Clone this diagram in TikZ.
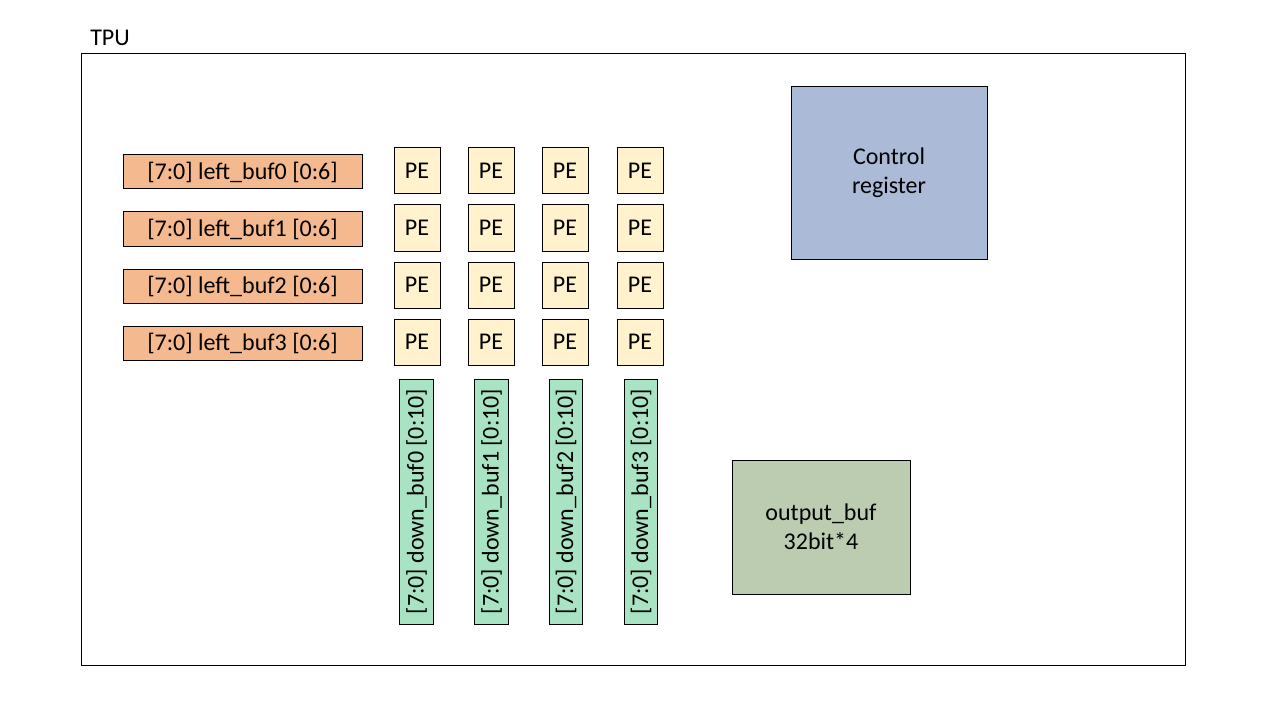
\documentclass[tikz,border=0pt]{standalone}
\usepackage{fontspec}
\setmainfont{Carlito}
\usetikzlibrary{positioning}

\definecolor{leftfill}{HTML}{F4B98F}
\definecolor{pefill}{HTML}{FFF2CC}
\definecolor{downfill}{HTML}{A8E3C3}
\definecolor{ctrlfill}{HTML}{ABBAD6}
\definecolor{outfill}{HTML}{BBCCB0}

\tikzset{
    box/.style={draw=black, line width=0.75pt, inner sep=0pt, font=\fontsize{18}{21.6}\selectfont},
    leftbuf/.style={box, fill=leftfill, minimum width=179.25pt, minimum height=25.5pt},
    pe/.style={box, fill=pefill, minimum width=34.5pt, minimum height=34.5pt},
    downbuf/.style={box, fill=downfill, rotate=90, minimum width=183.75pt, minimum height=25pt},
    bigbox/.style={box, align=center}
}

\begin{document}
\begin{tikzpicture}[x=0.75pt, y=-0.75pt]
        % Page size in pixels
        \useasboundingbox (0, 0) rectangle (1280, 720);

        % Outer TPU frame
        \coordinate (F1) at (81, 54);
        \coordinate (F2) at (1185, 665);
        \draw [line width=0.75pt] (F1) rectangle (F2);
        \node [anchor=west, inner sep=0pt, font=\fontsize{18}{21.6}\selectfont] (tpu) at (90, 38) {TPU};

        % Left buffers
        \node [leftbuf] (L0) at (242.5, 172) {[7:0] left\_buf0 [0:6]};
        \node [leftbuf] (L1) at (242.5, 229) {[7:0] left\_buf1 [0:6]};
        \node [leftbuf] (L2) at (242.5, 286) {[7:0] left\_buf2 [0:6]};
        \node [leftbuf] (L3) at (242.5, 343) {[7:0] left\_buf3 [0:6]};

        % PE array, row by row
        \node [pe] (P00) at (417, 171) {PE};
        \node [pe] (P01) at (491, 171) {PE};
        \node [pe] (P02) at (565, 171) {PE};
        \node [pe] (P03) at (640, 171) {PE};

        \node [pe] (P10) at (417, 228) {PE};
        \node [pe] (P11) at (491, 228) {PE};
        \node [pe] (P12) at (565, 228) {PE};
        \node [pe] (P13) at (640, 228) {PE};

        \node [pe] (P20) at (417, 285) {PE};
        \node [pe] (P21) at (491, 285) {PE};
        \node [pe] (P22) at (565, 285) {PE};
        \node [pe] (P23) at (640, 285) {PE};

        \node [pe] (P30) at (417, 342) {PE};
        \node [pe] (P31) at (491, 342) {PE};
        \node [pe] (P32) at (565, 342) {PE};
        \node [pe] (P33) at (640, 342) {PE};

        % Down buffers, text turned upwards
        \node [downbuf] (D0) at (416.5, 501.5) {[7:0] down\_buf0 [0:10]};
        \node [downbuf] (D1) at (491.5, 501.5) {[7:0] down\_buf1 [0:10]};
        \node [downbuf] (D2) at (566, 501.5) {[7:0] down\_buf2 [0:10]};
        \node [downbuf] (D3) at (641, 501.5) {[7:0] down\_buf3 [0:10]};

        % Control and output blocks
        \node [bigbox, fill=ctrlfill, minimum width=147pt, minimum height=129pt] (ctrl) at (889, 173) {Control\\register};
        \node [bigbox, fill=outfill, minimum width=133.5pt, minimum height=100.5pt] (outbuf) at (821, 527) {output\_buf\\32bit*4};
        \end{tikzpicture}
\end{document}
